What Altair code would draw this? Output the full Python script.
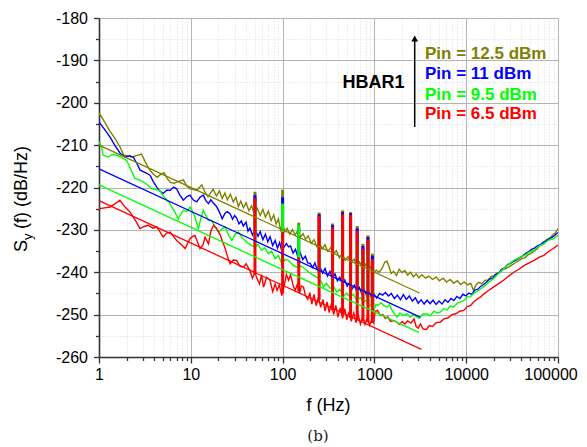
import altair as alt
import pandas as pd

# ---------------- data ----------------
olive_f = [1, 1.15, 1.3, 1.5, 1.7, 1.85, 2.05, 2.3, 2.6, 2.9, 3.2, 3.5, 3.9, 4.3, 4.7, 5.1, 5.5, 6.0, 6.6, 7.2,
           7.8, 8.3, 9.0, 9.8, 10.7, 11.6, 12.4, 13.2, 14.2, 15.4, 16.5, 17.5, 19, 20.5, 22, 23.5, 25, 27, 29, 31,
           33, 35, 37.5, 40, 43, 46, 49, 53, 57, 61, 65, 70, 75, 80, 85, 90, 95, 100, 106, 112,
           120, 128, 137, 146, 156, 167, 178, 190, 205, 220, 235, 250, 270, 290, 310, 335, 360, 385, 415, 445,
           480, 515, 555, 600, 645, 690, 740, 795, 850, 910, 980, 1050, 1130, 1220, 1300, 1370, 1440, 1520, 1620, 1740,
           1860, 2000, 2150, 2300, 2480, 2650, 2850, 3050, 3300, 3600, 3900, 4300, 4700, 5100, 5600, 6100, 6700, 7300, 8000, 8700,
           9500, 10300, 11200, 12000, 12800, 13700, 14800, 16000, 17300, 18700, 20200, 21800, 23500, 25400, 27400, 29600, 32000, 34500, 37300, 40300,
           43500, 47000, 50800, 54800, 59200, 64000, 69000, 74500, 80500, 87000, 93000, 100000]
olive_v = [-202.4, -204.5, -206.5, -208.5, -210.5, -212.3, -212.6, -212.8, -212.4, -212.1, -214.0, -215.6, -216.8, -217.6, -216.9, -216.5, -217.8, -218.8, -219.0, -218.6,
           -218.4, -218.2, -219.6, -220.3, -220.5, -220.7, -220.0, -219.4, -221.0, -222.2, -221.2, -220.4, -222.0, -220.8, -222.6, -221.3, -222.9, -221.6, -223.4, -222.3,
           -224.5, -223.2, -224.8, -223.6, -225.5, -224.3, -226.2, -224.9, -226.6, -225.2, -227.0, -225.6, -227.8, -226.5, -228.6, -227.4, -230.0, -228.7, -230.4, -229.6,
           -231.0, -229.9, -231.2, -230.2, -231.8, -230.9, -232.2, -231.4, -233.2, -232.3, -233.9, -232.8, -234.5, -233.5, -235.1, -234.2, -235.7, -234.9, -236.6, -235.6,
           -237.2, -236.3, -237.8, -236.9, -238.3, -237.6, -239.0, -238.1, -239.5, -238.7, -240.2, -239.5, -240.0, -239.0, -237.6, -237.4, -238.6, -240.3, -239.8, -240.8,
           -239.3, -240.1, -239.6, -240.7, -240.0, -241.1, -240.4, -241.3, -240.6, -241.4, -240.9, -241.7, -241.1, -242.0, -241.4, -242.3, -241.7, -242.6, -242.0, -242.9,
           -242.3, -243.0, -242.6, -244.3, -243.0, -242.4, -242.7, -241.9, -241.8, -241.0, -240.9, -240.2, -240.0, -239.3, -239.1, -238.6, -238.2, -237.7, -237.3, -236.8,
           -236.6, -235.9, -235.6, -235.0, -234.5, -233.6, -233.4, -232.3, -232.2, -231.2, -230.8, -229.7]

blue_f = [1, 1.15, 1.32, 1.5, 1.7, 1.92, 2.15, 2.37, 2.6, 2.8, 3.2, 3.6, 3.9, 4.26, 4.6, 5.0, 5.5, 5.95, 6.5, 7.0,
          7.6, 8.3, 9.0, 9.8, 10.6, 11.6, 12.6, 13.7, 14.6, 15.6, 16.5, 17.5, 19, 20.5, 22, 23.5, 25, 26.8, 28.5, 30,
          31.6, 33.5, 35.5, 37.3, 40, 42, 44, 47, 50, 54, 57, 61, 65, 69, 73, 78, 83, 88, 93, 98,
          104, 110, 116, 122, 130, 138, 147, 156, 166, 177, 188, 200, 212, 225, 240, 255, 272, 290, 308, 328,
          350, 372, 395, 420, 447, 475, 505, 537, 570, 606, 645, 685, 730, 775, 825, 875, 930, 990, 1060, 1140,
          1230, 1320, 1420, 1530, 1650, 1780, 1920, 2070, 2230, 2400, 2590, 2790, 3000, 3230, 3480, 3750, 4040, 4350, 4700, 5060,
          5450, 5870, 6330, 6820, 7350, 7920, 8540, 9200, 9920, 10700, 11500, 12400, 13400, 14400, 15500, 16700, 18000, 19400, 20900, 22500,
          24300, 26200, 28200, 30400, 32800, 35300, 38100, 41000, 44200, 47700, 51400, 55400, 59700, 64300, 69300, 74700, 80500, 86800, 93000, 100000]
blue_v = [-204.5, -206.3, -208.1, -210.2, -211.9, -212.8, -212.5, -212.9, -214.4, -215.9, -216.5, -217.1, -218.6, -219.9, -220.8, -221.4, -220.6, -220.7, -219.9, -220.3,
          -221.8, -223.0, -222.2, -221.8, -222.9, -223.4, -222.3, -221.8, -223.1, -223.8, -222.9, -223.6, -224.4, -225.8, -227.4, -226.1, -225.7, -226.2, -227.5, -226.6,
          -227.2, -228.6, -227.9, -229.1, -228.2, -230.3, -229.6, -231.2, -229.9, -231.5, -230.4, -232.3, -231.0, -232.8, -231.6, -233.7, -232.5, -234.3, -233.0, -235.0,
          -234.0, -233.2, -234.0, -233.8, -235.5, -234.6, -236.4, -235.5, -237.0, -236.2, -237.8, -237.9, -238.9, -237.8, -239.5, -238.6, -240.2, -239.1, -240.9, -239.8,
          -241.3, -240.4, -242.0, -241.2, -242.8, -241.8, -243.3, -242.4, -244.0, -243.1, -244.7, -243.6, -245.1, -244.1, -245.6, -244.6, -246.0, -245.2, -246.1, -245.0,
          -245.4, -244.8, -245.6, -245.0, -246.2, -245.4, -246.5, -245.3, -246.4, -245.6, -246.8, -246.0, -247.3, -246.5, -247.5, -246.6, -247.4, -246.6, -247.6, -246.8,
          -247.5, -246.5, -247.1, -246.2, -246.7, -245.7, -246.2, -245.2, -245.6, -244.9, -245.2, -244.2, -244.0, -243.3, -242.9, -242.3, -241.6, -241.4, -240.5, -240.2,
          -239.3, -239.0, -238.2, -237.9, -237.4, -237.1, -236.6, -236.2, -235.6, -235.2, -234.6, -234.3, -233.8, -233.5, -232.9, -232.6, -232.0, -231.7, -231.2, -230.6]

green_f = [1, 1.07, 1.11, 1.25, 1.4, 1.56, 1.75, 2.0, 2.2, 2.47, 2.75, 3.04, 3.4, 3.75, 4.15, 4.6, 5.0, 5.5, 5.85, 6.2,
           6.7, 7.3, 7.8, 8.3, 9.0, 9.8, 10.9, 12.1, 12.9, 13.7, 14.6, 15.6, 16.9, 18.3, 20, 21.8, 23.7, 25.8, 28, 30.4,
           33, 36.5, 40.9, 45, 50, 54, 59, 64, 70, 76, 83, 90, 98, 107, 116, 128, 143, 160, 184, 205,
           235, 260, 280, 300, 330, 360, 390, 420, 460, 500, 545, 590, 640, 700, 760, 820, 880, 930, 980, 1040,
           1100, 1180, 1270, 1370, 1460, 1570, 1680, 1770, 1900, 2060, 2280, 2450, 2650, 2900, 3100, 3350, 3700, 4050, 4450, 4800,
           5200, 5700, 6200, 6700, 7300, 8000, 8700, 9400, 10300, 11100, 12000, 13000, 14400, 15600, 17500, 19800, 22500, 25500, 29000, 33000,
           37500, 43000, 48500, 55000, 62000, 70000, 79000, 89000, 100000]
green_v = [-209.2, -210.5, -212.4, -212.8, -212.2, -212.4, -212.9, -213.6, -215.5, -217.9, -218.2, -218.7, -219.4, -220.3, -220.5, -220.7, -222.0, -223.0, -223.6, -224.6,
           -225.8, -227.4, -226.2, -225.4, -225.7, -224.6, -226.5, -229.7, -227.2, -225.4, -226.6, -227.8, -227.8, -229.2, -230.5, -229.8, -229.3, -231.3, -232.5, -231.1,
           -230.5, -231.9, -232.9, -233.6, -234.1, -233.5, -234.8, -234.2, -235.6, -235.0, -236.8, -236.0, -238.0, -237.0, -237.2, -238.2, -238.8, -238.6, -239.6, -240.4,
           -241.2, -242.0, -243.5, -242.6, -243.8, -243.4, -244.7, -244.0, -245.6, -244.9, -245.9, -245.2, -246.6, -246.0, -247.1, -246.6, -248.0, -247.5, -249.0, -247.6,
           -247.8, -247.2, -247.9, -248.2, -247.7, -249.1, -250.0, -250.6, -249.6, -250.2, -249.8, -250.6, -249.9, -250.6, -250.9, -249.9, -249.8, -250.3, -249.2, -249.6,
           -249.4, -248.6, -248.9, -248.0, -248.2, -247.3, -247.0, -246.7, -245.8, -245.8, -245.0, -244.6, -243.9, -243.4, -242.4, -241.5, -240.3, -239.2, -238.1, -237.2,
           -236.6, -236.0, -235.3, -234.8, -233.8, -233.3, -232.4, -232.1, -231.3]

red_f = [1, 1.15, 1.32, 1.5, 1.69, 1.9, 2.18, 2.5, 2.8, 3.1, 3.45, 3.85, 4.26, 4.6, 5.0, 5.4, 5.95, 6.5, 7.0, 7.8,
         8.7, 9.2, 9.8, 10.4, 11.1, 11.8, 12.6, 13.6, 14.3, 15.6, 16.5, 17.7, 19, 21, 22.3, 23.7, 25, 26.8, 29, 31.6,
         34, 37.3, 40, 44, 47, 50, 52, 56, 59, 62, 67, 73, 78, 83, 87, 92, 98, 104, 110, 116,
         122, 130, 137, 145, 153, 160, 169, 178, 188, 198, 208, 220, 232, 246, 260, 275, 290, 305, 322, 340,
         360, 380, 400, 425, 450, 475, 500, 530, 560, 595, 630, 665, 705, 745, 790, 835, 885, 935, 980, 1020,
         1080, 1150, 1230, 1320, 1400, 1500, 1620, 1750, 1880, 2000, 2150, 2300, 2500, 2700, 2850, 3000, 3170, 3400, 3700, 3950,
         4300, 4700, 5200, 5700, 6300, 7000, 7700, 8500, 9400, 10300, 11200, 12000, 13200, 14400, 15600, 17500, 19800, 22500, 25500, 29000,
         33000, 37500, 43000, 48500, 55000, 62000, 70000, 79000, 89000, 100000]
red_v = [-225.0, -224.8, -224.6, -223.8, -223.0, -224.5, -225.8, -227.8, -229.7, -229.2, -228.9, -229.6, -229.3, -230.4, -231.7, -230.8, -230.5, -231.6, -232.5, -233.4,
         -234.4, -233.2, -232.1, -231.6, -231.3, -232.8, -234.4, -233.5, -231.7, -233.3, -230.4, -228.9, -229.6, -231.3, -232.9, -234.4, -236.2, -238.0, -237.1, -237.2,
         -238.5, -238.8, -238.0, -239.6, -241.4, -240.0, -241.2, -242.8, -240.6, -243.5, -241.2, -241.9, -244.6, -242.8, -244.3, -243.0, -245.5, -243.2, -240.5, -241.9,
         -240.6, -243.1, -244.3, -242.8, -245.0, -243.2, -243.5, -245.6, -246.4, -244.8, -247.5, -245.2, -247.9, -245.9, -248.3, -246.4, -249.2, -247.0, -249.5, -247.3,
         -250.0, -247.8, -250.6, -248.4, -250.9, -248.6, -251.2, -249.3, -251.6, -249.6, -251.9, -250.0, -252.2, -250.4, -252.3, -250.6, -252.5, -251.2, -252.0, -249.2,
         -249.0, -250.1, -250.0, -250.9, -250.5, -251.6, -251.4, -251.8, -252.3, -251.6, -252.2, -251.5, -252.0, -251.0, -252.8, -253.2, -252.2, -253.4, -253.5, -252.6,
         -252.8, -251.9, -251.8, -251.0, -250.8, -250.0, -249.8, -249.2, -249.0, -248.1, -247.8, -247.1, -246.3, -245.8, -245.1, -244.3, -243.5, -242.7, -241.9, -240.9,
         -240.0, -239.3, -238.4, -237.8, -237.2, -236.5, -236.0, -235.1, -234.4, -233.6]

# spurious harmonic spikes (frequency, top value and base value of each series)
spike_f = [50, 100, 150, 250, 350, 450, 550, 650, 750, 850, 950]
olive_top = [-221.0, -220.5, -228.3, -225.9, -228.5, -225.4, -225.8, -229.1, -233.3, -231.3, -235.6]
blue_top = [-221.8, -222.3, -229.6, -226.3, -228.9, -225.8, -226.1, -229.6, -233.8, -231.7, -236.1]
green_top = [-223.5, -223.8, -228.9, -230.5, -232.0, -230.0, -231.0, -233.0, -236.0, -235.0, -238.0]
red_top = [-222.6, -230.5, -236.5, -226.7, -229.4, -226.3, -226.5, -230.2, -234.5, -232.2, -236.9]
olive_base = [-225.8, -229.0, -230.5, -233.0, -234.8, -235.8, -237.0, -238.0, -238.7, -239.2, -239.8]
blue_base = [-230.5, -234.0, -235.8, -239.0, -240.8, -242.0, -243.0, -244.0, -244.8, -245.2, -245.8]
green_base = [-234.0, -237.5, -238.5, -241.5, -243.5, -245.0, -245.5, -246.3, -246.8, -247.5, -248.0]
red_base = [-240.5, -245.0, -244.5, -246.5, -249.0, -250.0, -250.8, -251.2, -251.5, -251.8, -252.0]

# fitted 1/f lines: end points
fit_f = [[1, 3100], [1, 3150], [1, 3050], [1, 3250]]
fit_v = [[-210.0, -244.9], [-215.6, -250.6], [-219.4, -254.2], [-223.1, -258.2]]

names = ["olive", "blue", "green", "red"]
colors = ["#808000", "#0000ff", "#00ff00", "#ff0000"]
legend_labels = ["Pin = 12.5 dBm", "Pin = 11 dBm", "Pin = 9.5 dBm", "Pin = 6.5 dBm"]

x_major = [1, 10, 100, 1000, 10000, 100000]
x_ticks = [m * d for d in [1, 10, 100, 1000, 10000] for m in range(1, 10)] + [100000]
y_ticks = list(range(-260, -175, 5))

FONT = "Liberation Sans"

# ---------------- scales / axes ----------------
xt = "indexof([1,10,100,1000,10000,100000], datum.value) >= 0"
yt = "datum.value % 10 === 0"

xscale = alt.Scale(type="log", domain=[1, 100000], nice=False)
yscale = alt.Scale(domain=[-260, -180], nice=False, zero=False)

xaxis = alt.Axis(
    values=x_ticks, title=None,
    labelExpr=f"({xt}) ? '' + datum.value : ''",
    labelFont=FONT, labelFontSize=16, labelColor="#000", labelPadding=3.5,
    labelOverlap=False, labelFlush=False,
    labelOffset={"condition": {"test": "datum.value === 100000", "value": -7.5}, "value": 0},
    grid=True,
    gridColor={"condition": {"test": xt, "value": "#b4b4b4"}, "value": "#dadada"},
    gridDash={"condition": {"test": xt, "value": []}, "value": [1, 2]},
    gridWidth=1,
    tickSize={"condition": {"test": xt, "value": 6}, "value": 3.5},
    tickColor="#333", tickWidth=1.3,
    domainColor="#333", domainWidth=1.6,
)
yaxis = alt.Axis(
    values=y_ticks, title=None,
    labelExpr=f"({yt}) ? '' + datum.value : ''",
    labelFont=FONT, labelFontSize=16, labelColor="#000", labelPadding=6,
    labelOverlap=False, labelFlush=False,
    grid=True,
    gridColor={"condition": {"test": yt, "value": "#b4b4b4"}, "value": "#dadada"},
    gridDash={"condition": {"test": yt, "value": []}, "value": [1, 2]},
    gridWidth=1,
    tickSize={"condition": {"test": yt, "value": 5.5}, "value": 3.5},
    tickColor="#333", tickWidth=1.3,
    domainColor="#333", domainWidth=1.6,
)


def X(field):
    return alt.X(f"{field}:Q", scale=xscale, axis=xaxis)


def Y(field):
    return alt.Y(f"{field}:Q", scale=yscale, axis=yaxis)


series_f = [olive_f, blue_f, green_f, red_f]
series_v = [olive_v, blue_v, green_v, red_v]
tops = [olive_top, blue_top, green_top, red_top]
bases = [olive_base, blue_base, green_base, red_base]

layers = []
for i, name in enumerate(names):
    df = pd.DataFrame({"f": series_f[i], "v": series_v[i]})
    layers.append(
        alt.Chart(df).mark_line(color=colors[i], strokeWidth=1.4, clip=True)
        .encode(x=X("f"), y=Y("v"), order="f:Q")
    )
    sp = pd.DataFrame({"f": spike_f, "top": tops[i], "base": bases[i]})
    layers.append(
        alt.Chart(sp).mark_rule(color=colors[i], strokeWidth=3)
        .encode(x=X("f"), y=Y("top"), y2=alt.Y2("base:Q"))
    )

for i, name in enumerate(names):
    df = pd.DataFrame({"f": fit_f[i], "v": fit_v[i]})
    layers.append(
        alt.Chart(df).mark_line(color=colors[i], strokeWidth=1.3)
        .encode(x=X("f"), y=Y("v"))
    )


def txt(t, x, y, size, color="#000", weight="normal", angle=0, font=FONT, align="left"):
    return alt.Chart(pd.DataFrame({"t": [t]})).mark_text(
        align=align, baseline="alphabetic", fontSize=size, fontWeight=weight,
        color=color, font=font, angle=angle,
    ).encode(x=alt.value(x), y=alt.value(y), text="t:N")


one = pd.DataFrame({"a": [0]})

# legend-like annotation
leg_y = [41, 60.5, 82, 101]
for lab, col, yy in zip(legend_labels, colors, leg_y):
    layers.append(txt(lab, 326, yy, 17, color=col, weight="bold"))
layers.append(txt("HBAR1", 243.5, 69.5, 18, weight="bold"))
layers.append(
    alt.Chart(one).mark_rule(color="#000", strokeWidth=1.5)
    .encode(x=alt.value(315.7), y=alt.value(23), y2=alt.value(109))
)
layers.append(
    alt.Chart(one).mark_point(shape="triangle-up", filled=True, color="#000", opacity=1, size=45)
    .encode(x=alt.value(315.7), y=alt.value(20.5))
)

# axis titles
layers.append(txt("S", -72, 234, 18, angle=270))
layers.append(txt("y", -67.5, 222, 13, angle=270))
layers.append(txt("(f) (dB/Hz)", -72, 211, 18, angle=270))
layers.append(txt("f (Hz)", 229.5, 393, 18, align="center"))
layers.append(txt("(b)", 219, 423, 15, color="#222", font="DejaVu Serif", align="center"))

chart = alt.layer(*layers).properties(
    width=459, height=339,
    autosize=alt.AutoSizeParams(type="none"),
    padding={"left": 91, "top": 10, "right": 21, "bottom": 90},
).configure_view(stroke="#333", strokeWidth=1.6).configure(background="white")

chart.save("out.html", embed_options={"renderer": "svg", "actions": False})
